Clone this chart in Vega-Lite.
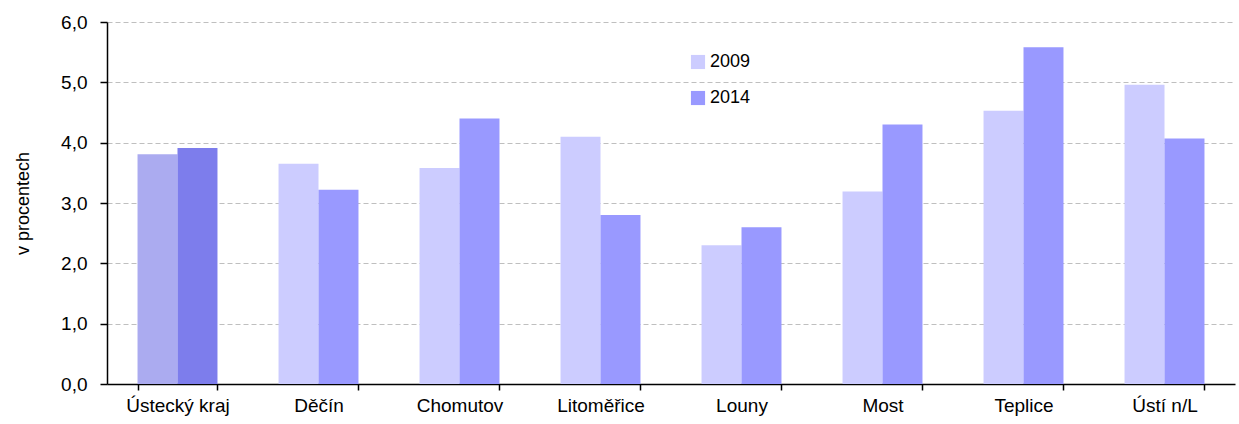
{
  "$schema": "https://vega.github.io/schema/vega-lite/v6.json",
  "width": 1128,
  "height": 362,
  "autosize": {"type": "none"},
  "padding": {"left": 107, "top": 22, "right": 4, "bottom": 40},
  "background": "white",
  "config": {"view": {"stroke": null}, "font": "Liberation Sans"},
  "data": {"values": [
    {"okres": "Ústecký kraj", "rok": "2009", "serie": "2009k", "hodnota": 3.81},
    {"okres": "Ústecký kraj", "rok": "2014", "serie": "2014k", "hodnota": 3.91},
    {"okres": "Děčín", "rok": "2009", "serie": "2009", "hodnota": 3.65},
    {"okres": "Děčín", "rok": "2014", "serie": "2014", "hodnota": 3.22},
    {"okres": "Chomutov", "rok": "2009", "serie": "2009", "hodnota": 3.58},
    {"okres": "Chomutov", "rok": "2014", "serie": "2014", "hodnota": 4.40},
    {"okres": "Litoměřice", "rok": "2009", "serie": "2009", "hodnota": 4.10},
    {"okres": "Litoměřice", "rok": "2014", "serie": "2014", "hodnota": 2.80},
    {"okres": "Louny", "rok": "2009", "serie": "2009", "hodnota": 2.30},
    {"okres": "Louny", "rok": "2014", "serie": "2014", "hodnota": 2.60},
    {"okres": "Most", "rok": "2009", "serie": "2009", "hodnota": 3.19},
    {"okres": "Most", "rok": "2014", "serie": "2014", "hodnota": 4.30},
    {"okres": "Teplice", "rok": "2009", "serie": "2009", "hodnota": 4.53},
    {"okres": "Teplice", "rok": "2014", "serie": "2014", "hodnota": 5.58},
    {"okres": "Ústí n/L", "rok": "2009", "serie": "2009", "hodnota": 4.96},
    {"okres": "Ústí n/L", "rok": "2014", "serie": "2014", "hodnota": 4.07}
  ]},
  "mark": {"type": "bar"},
  "encoding": {
    "x": {
      "field": "okres", "type": "nominal", "sort": null,
      "scale": {"paddingInner": 0.433, "paddingOuter": 0.2165},
      "axis": {
        "title": null, "labelAngle": 0, "labelFontSize": 19, "labelColor": "#000",
        "labelPadding": 6, "tickBand": "extent", "tickSize": 6, "tickColor": "#000",
        "domainColor": "#000", "domainWidth": 1.5, "tickWidth": 1.5, "grid": false
      }
    },
    "xOffset": {"field": "rok", "type": "nominal", "scale": {"paddingInner": 0, "paddingOuter": 0}},
    "y": {
      "field": "hodnota", "type": "quantitative",
      "scale": {"domain": [0, 6], "nice": false},
      "axis": {
        "title": "v procentech", "titleFontSize": 18, "titleFontWeight": "normal", "titleColor": "#000",
        "titlePadding": 28,
        "values": [0, 1, 2, 3, 4, 5, 6],
        "labelExpr": "replace(format(datum.value, '.1f'), '.', ',')",
        "labelFontSize": 19, "labelColor": "#000", "labelPadding": 13,
        "tickSize": 7, "tickColor": "#000", "domainColor": "#000", "domainWidth": 1.5, "tickWidth": 1.5,
        "grid": true, "gridColor": "#bfbfbf", "gridDash": [5, 3], "gridWidth": 1.2
      }
    },
    "color": {
      "field": "serie", "type": "nominal",
      "scale": {"domain": ["2009", "2014", "2009k", "2014k"], "range": ["#CCCCFF", "#9999FF", "#ABABF0", "#7D7DEC"]},
      "legend": {
        "values": ["2009", "2014"], "title": null, "orient": "none", "legendX": 582, "legendY": 31,
        "symbolType": "square", "symbolSize": 200, "symbolStrokeWidth": 0,
        "labelFontSize": 18, "labelColor": "#000", "rowPadding": 18, "labelOffset": 3
      }
    }
  }
}
